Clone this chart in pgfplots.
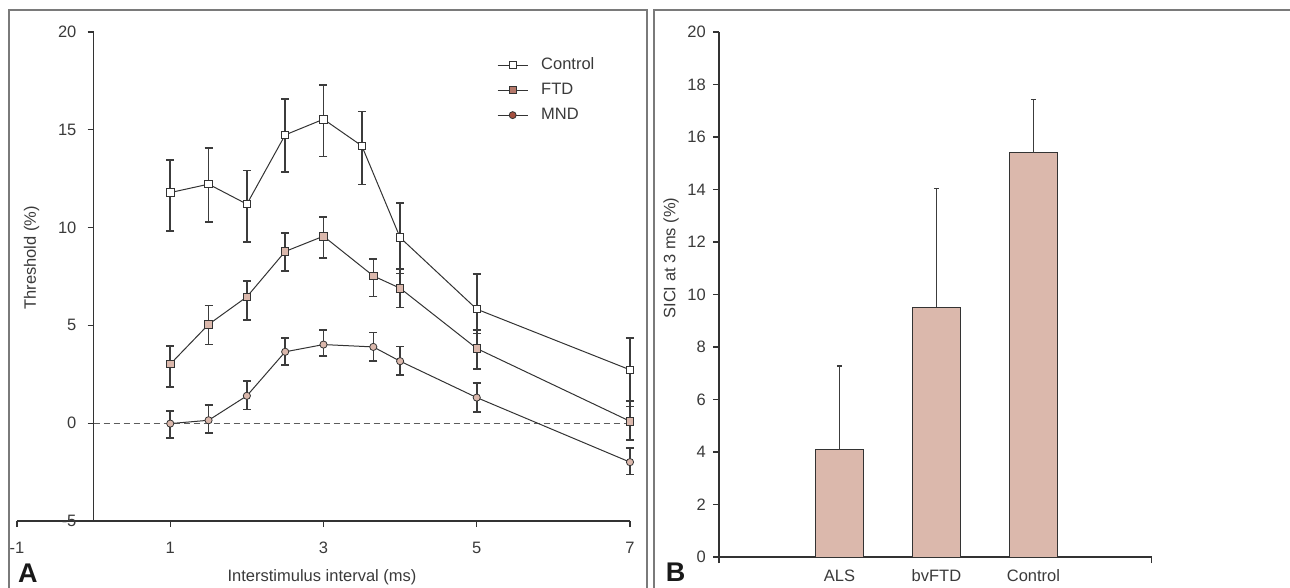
\documentclass[border=0pt]{standalone}
\usepackage{fontspec}
\setmainfont{Liberation Sans}
\usepackage{pgfplots}
\usepackage{pgfplotstable}
\pgfplotsset{compat=1.18}

\definecolor{pinkfill}{HTML}{DBB8AC}
\definecolor{framegray}{HTML}{7A7A7A}
\definecolor{axisgray}{HTML}{333333}
\definecolor{errgray}{HTML}{3C3C3C}
\definecolor{txtgray}{HTML}{3A3A3A}
\definecolor{ftdleg}{HTML}{B5786A}
\definecolor{mndleg}{HTML}{A5503F}

% threshold tracking, mean with upper / lower error
\pgfplotstableread{
x    y      ep    em
1    11.79  1.66  1.97
1.5  12.22  1.84  1.93
2    11.20  1.72  1.95
2.5  14.74  1.82  1.91
3    15.54  1.76  1.91
3.5  14.18  1.76  1.98
4    9.49   1.76  1.84
5    5.83   1.79  1.24
7    2.73   1.62  1.88
}\control
\pgfplotstableread{
x    y      ep    em
1    3.02   0.92  1.18
1.5  5.05   0.97  1.03
2    6.46   0.82  1.18
2.5  8.78   0.93  0.99
3    9.56   0.99  1.12
3.65 7.53   0.85  1.05
4    6.90   0.98  0.99
5    3.82   0.95  1.04
7    0.10   1.04  0.97
}\ftd
\pgfplotstableread{
x    y      ep    em
1    -0.02  0.63  0.75
1.5  0.15   0.79  0.66
2    1.40   0.76  0.70
2.5  3.65   0.70  0.67
3    4.02   0.75  0.59
3.65 3.90   0.74  0.71
4    3.17   0.75  0.70
5    1.31   0.73  0.75
7    -1.99  0.71  0.63
}\mnd
\pgfplotstableread{
x y     e
1 4.09  3.19
2 9.52  4.52
3 15.40 2.02
}\sici

\newcommand{\lblfont}{\fontsize{16.5}{18}\selectfont}

\pgfplotsset{
  panel/.style={
    scale only axis, anchor=south west,
    axis line style={line width=1.3pt, color=axisgray},
    tick style={line width=1.3pt, color=axisgray},
    major tick length=6pt, tick align=outside,
    every tick label/.append style={font=\lblfont, text=txtgray},
    hide obscured x ticks=false, hide obscured y ticks=false,
  },
  errs/.style={
    error bars/.cd, y dir=both, y explicit,
    error bar style={line width=1.6pt, color=errgray},
    error mark options={rotate=90, mark size=4pt, line width=1.6pt, color=errgray},
  },
}

\begin{document}
\begin{tikzpicture}[x=1pt,y=1pt]
\useasboundingbox (0,0) rectangle (1290,587);
\draw[framegray, line width=1.3pt] (9,-5) -- (9,577) -- (647,577) -- (647,-5);
\draw[framegray, line width=1.3pt] (654,-5) -- (654,577) -- (1295,577);

\begin{axis}[panel,
  at={(17pt,66pt)}, width=613pt, height=489pt,
  xmin=-1, xmax=7, ymin=-5, ymax=20,
  axis x line*=bottom, axis y line*=middle,
  xtick={-1,1,3,5,7}, xticklabels={-1,1,3,5,7},
  ytick={-5,0,5,10,15,20}, yticklabels={-5,0,5,10,15,20},
  yticklabel style={anchor=east, inner sep=0pt, xshift=-11pt},
  xticklabel style={anchor=base, inner sep=0pt, yshift=-26pt},
  xlabel={Interstimulus interval (ms)}, ylabel={Threshold (\%)},
  every axis x label/.style={at={(axis description cs:0.4976,-0.1227)}, anchor=base, font=\lblfont, text=txtgray},
  every axis y label/.style={at={(axis description cs:0.0237,0.538)}, rotate=90, anchor=center, font=\lblfont, text=txtgray},
  legend style={at={(axis description cs:0.783,0.949)}, anchor=north west, draw=none, fill=none,
    font=\lblfont, text=txtgray, row sep=9pt, column sep=13pt, inner sep=0pt,
    nodes={inner sep=0pt, text height=12pt, text depth=4pt}},
  legend cell align=left,
  legend image code/.code={\draw[mark repeat=2, mark phase=2, #1] plot coordinates {(0pt,0pt) (15pt,0pt) (30pt,0pt)};},
  clip=false,
]
\addplot[forget plot, color=axisgray!80, line width=1pt, dash pattern=on 6pt off 4pt] coordinates {(0,0) (7,0)};

\addplot[forget plot, color=axisgray, line width=1pt, mark=square*, mark size=3.7pt,
  mark options={fill=white, draw=axisgray, line width=0.8pt, solid}, errs]
  table[x=x, y=y, y error plus=ep, y error minus=em] {\control};
\addplot[forget plot, color=axisgray, line width=1pt, mark=square*, mark size=3.7pt,
  mark options={fill=pinkfill, draw=axisgray, line width=0.8pt, solid}, errs]
  table[x=x, y=y, y error plus=ep, y error minus=em] {\ftd};
\addplot[forget plot, color=axisgray, line width=1pt, mark=*, mark size=3.6pt,
  mark options={fill=pinkfill, draw=axisgray, line width=0.8pt, solid}, errs]
  table[x=x, y=y, y error plus=ep, y error minus=em] {\mnd};

\addlegendimage{color=axisgray, line width=1pt, mark=square*, mark size=3.5pt, mark options={fill=white, draw=axisgray, line width=0.8pt}}
\addlegendentry{Control}
\addlegendimage{color=axisgray, line width=1pt, mark=square*, mark size=3.5pt, mark options={fill=ftdleg, draw=axisgray, line width=0.8pt}}
\addlegendentry{FTD}
\addlegendimage{color=axisgray, line width=1pt, mark=*, mark size=3.5pt, mark options={fill=mndleg, draw=axisgray, line width=0.8pt}}
\addlegendentry{MND}
\end{axis}

\begin{axis}[panel,
  at={(719pt,30pt)}, width=432.7pt, height=525pt,
  xmin=-0.242, xmax=4.219, ymin=0, ymax=20,
  axis x line*=bottom, axis y line*=left,
  xtick={-0.242,4.219}, xticklabels={},
  extra x ticks={1,2,3}, extra x tick labels={ALS,bvFTD,Control},
  extra x tick style={major tick length=0pt},
  ytick={0,2,...,20}, yticklabels={0,2,4,6,8,10,12,14,16,18,20},
  yticklabel style={anchor=east, inner sep=0pt, xshift=-7pt},
  xticklabel style={anchor=base, inner sep=0pt, yshift=-24pt},
  ylabel={SICI at 3 ms (\%)},
  every axis y label/.style={at={(axis description cs:-0.111,0.5695)}, rotate=90, anchor=center, font=\lblfont, text=txtgray},
  clip=false,
]
\addplot[ybar, bar width=48pt, fill=pinkfill, draw=axisgray, line width=1pt,
  error bars/.cd, y dir=plus, y explicit,
  error bar style={line width=1.3pt, color=errgray},
  error mark options={rotate=90, mark size=2.5pt, line width=1.3pt, color=errgray}]
  table[x=x, y=y, y error=e] {\sici};
\end{axis}

\node[anchor=base west, inner sep=0pt, font=\fontsize{27}{30}\selectfont\bfseries, text=black!90] at (18,4.3) {A};
\node[anchor=base west, inner sep=0pt, font=\fontsize{27}{30}\selectfont\bfseries, text=black!90] at (665.7,5.3) {B};
\end{tikzpicture}
\end{document}
